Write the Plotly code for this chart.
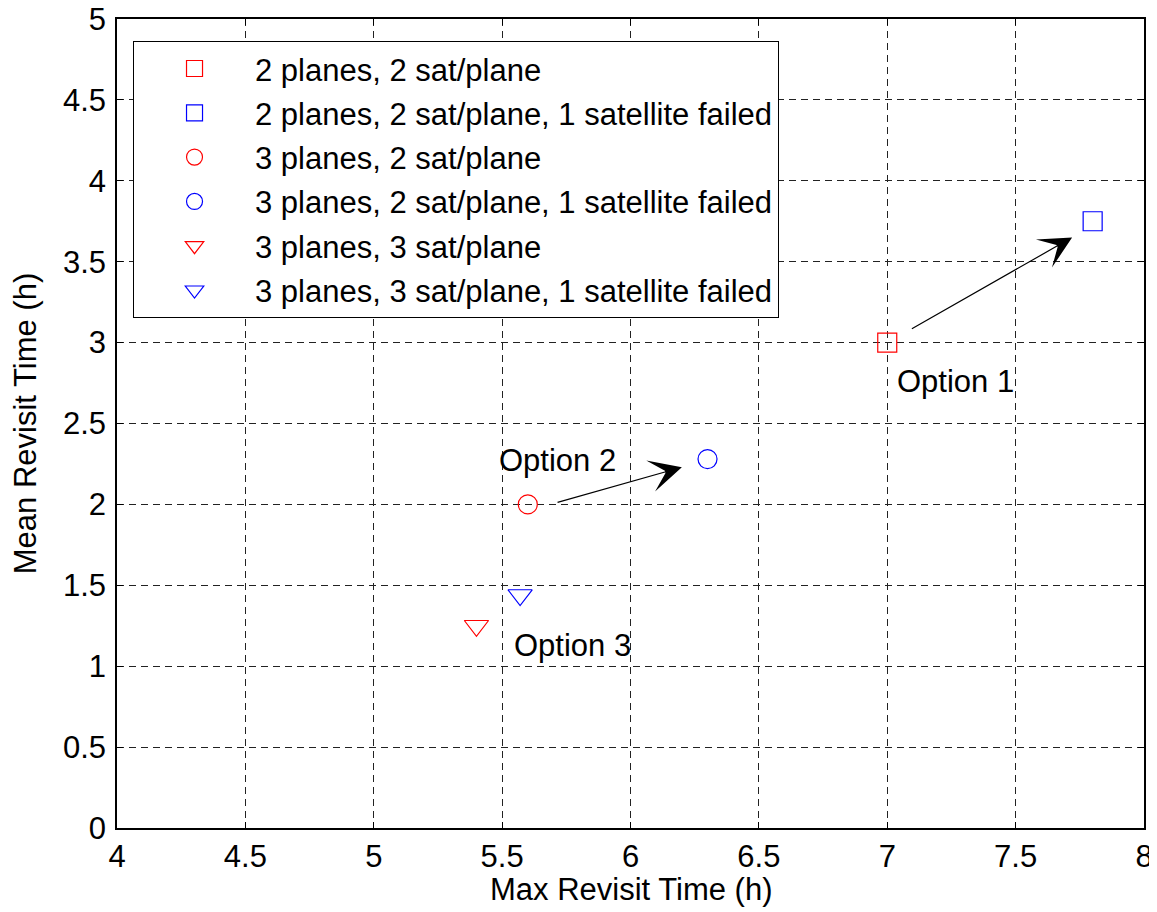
import plotly.graph_objects as go

names = [
    "2 planes, 2 sat/plane",
    "2 planes, 2 sat/plane, 1 satellite failed",
    "3 planes, 2 sat/plane",
    "3 planes, 2 sat/plane, 1 satellite failed",
    "3 planes, 3 sat/plane",
    "3 planes, 3 sat/plane, 1 satellite failed",
]
max_revisit = [7.0, 7.8, 5.6, 6.3, 5.4, 5.57]
mean_revisit = [3.0, 3.75, 2.0, 2.28, 1.25, 1.44]
symbols = ["square-open", "square-open", "circle-open", "circle-open",
           "triangle-down-open", "triangle-down-open"]
colors = ["#ff0000", "#0000ff", "#ff0000", "#0000ff", "#ff0000", "#0000ff"]
sizes = [19, 19, 19, 19, 21, 21]

# arrows: (tail x, tail y, head x, head y)
arrows = [(7.09, 3.08, 7.72, 3.65), (5.71, 2.01, 6.20, 2.23)]
option_labels = ["Option 1", "Option 2", "Option 3"]
option_x = [7.03, 5.48, 5.54]
option_y = [2.76, 2.27, 1.13]

x_title = "Max Revisit Time (h)"
y_title = "Mean Revisit Time (h)"

FONT = "Liberation Sans, Arial, sans-serif"
FS = 31

fig = go.Figure()
for i in range(len(names)):
    fig.add_trace(go.Scatter(
        x=[max_revisit[i]], y=[mean_revisit[i]], mode="markers", name=names[i],
        legendgroup=f"g{i}",
        marker=dict(symbol=symbols[i], size=sizes[i], color=colors[i],
                    line=dict(width=1.2, color=colors[i])),
    ))

annotations = []
for (tx, ty, hx, hy) in arrows:
    annotations.append(dict(
        x=hx, y=hy, ax=tx, ay=ty, xref="x", yref="y", axref="x", ayref="y",
        text="", showarrow=True, arrowhead=3, arrowsize=4.5, arrowwidth=1.2,
        arrowcolor="black", standoff=0, startstandoff=0,
    ))
for t, x, y in zip(option_labels, option_x, option_y):
    annotations.append(dict(
        x=x, y=y, xref="x", yref="y", text=t, showarrow=False,
        xanchor="left", yanchor="middle", font=dict(family=FONT, size=FS, color="black"),
    ))
# x-axis title, placed as paper annotation
annotations.append(dict(
    x=0.5, y=-0.0766, xref="paper", yref="paper", text=x_title, showarrow=False,
    xanchor="center", yanchor="middle", font=dict(family=FONT, size=FS, color="black"),
))

axis_common = dict(
    showline=True, linecolor="black", linewidth=1.5, mirror="ticks",
    ticks="inside", ticklen=6, tickcolor="black", tickwidth=1,
    showgrid=True, gridcolor="#222222", gridwidth=1, griddash="7px,5px",
    zeroline=False, tickfont=dict(family=FONT, size=FS, color="black"),
    dtick=0.5, automargin=False, ticklabeloverflow="allow",
)

fig.update_layout(
    width=1149, height=904,
    margin=dict(l=109, r=13, t=11, b=84),
    paper_bgcolor="white", plot_bgcolor="white",
    font=dict(family=FONT, size=FS, color="black"),
    xaxis=dict(range=[4, 8], **axis_common),
    yaxis=dict(range=[0, 5], title=dict(text=y_title, standoff=20,
               font=dict(family=FONT, size=FS)), ticklabelstandoff=3, **axis_common),
    legend=dict(x=0.0156, y=0.973, xanchor="left", yanchor="top",
                bgcolor="white", bordercolor="black", borderwidth=1,
                font=dict(family=FONT, size=FS, color="black"),
                tracegroupgap=1, itemwidth=111),
    annotations=annotations,
    showlegend=True,
)

fig.write_html("out.html")
